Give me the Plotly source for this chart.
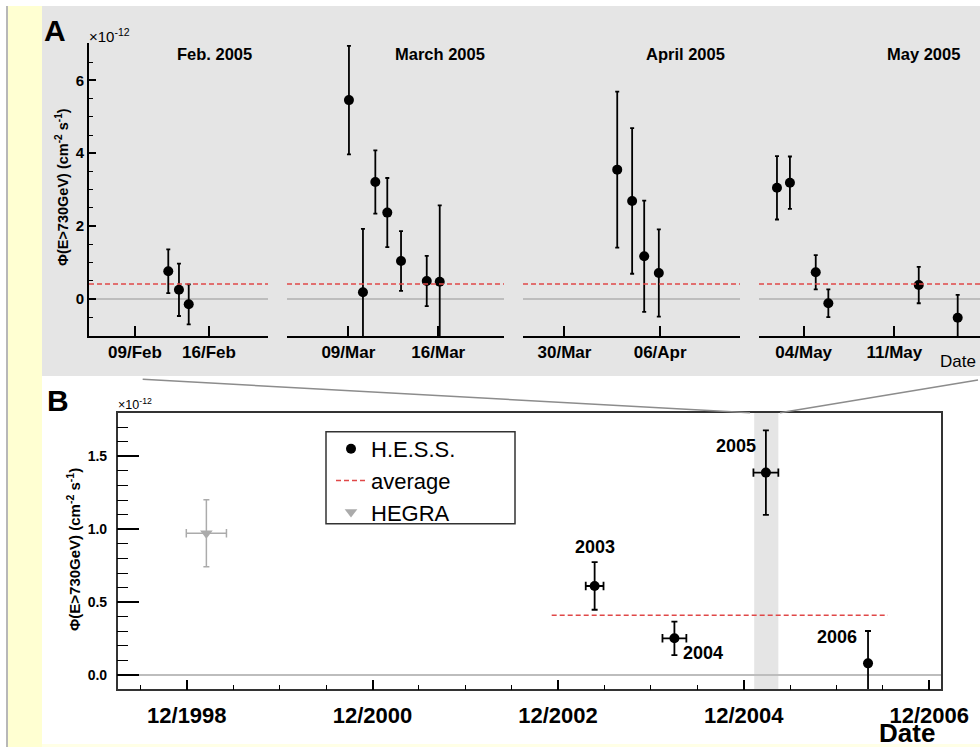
import plotly.graph_objects as go
import pandas as pd

W, H = 980, 747
def px(x): return x / W
def py(y): return 1 - y / H

FONT = "Liberation Sans, Arial, Helvetica, sans-serif"

# ---------------- Panel A data (flux in units of 1e-12 cm^-2 s^-1) ----------------
feb_dates = ["2005-02-12 03:36", "2005-02-13 03:50", "2005-02-14 02:00"]
feb_flux = [0.76, 0.25, -0.15]
feb_err = [0.60, 0.72, 0.55]

mar_dates = ["2005-03-09 01:10", "2005-03-10 03:20", "2005-03-11 02:25", "2005-03-12 00:45",
             "2005-03-13 02:25", "2005-03-15 02:25", "2005-03-16 02:40"]
mar_flux = [5.46, 0.18, 3.21, 2.37, 1.04, 0.49, 0.47]
mar_err = [1.49, 1.74, 0.87, 0.95, 0.82, 0.69, 2.10]

apr_dates = ["2005-04-02 20:40", "2005-04-03 22:50", "2005-04-04 20:00", "2005-04-05 21:40"]
apr_flux = [3.55, 2.69, 1.17, 0.71]
apr_err = [2.14, 2.00, 1.53, 1.20]

may_dates = ["2005-05-01 22:30", "2005-05-02 22:30", "2005-05-04 22:20", "2005-05-05 21:40",
             "2005-05-12 21:10", "2005-05-15 21:20"]
may_flux = [3.05, 3.19, 0.73, -0.12, 0.38, -0.52]
may_err = [0.87, 0.72, 0.47, 0.38, 0.50, 0.63]

month_titles = ["Feb. 2005", "March 2005", "April 2005", "May 2005"]
month_tickvals = [["2005-02-09", "2005-02-16"], ["2005-03-09", "2005-03-16"],
                  ["2005-03-30", "2005-04-06"], ["2005-05-04", "2005-05-11"]]
month_ticktext = [["09/Feb", "16/Feb"], ["09/Mar", "16/Mar"],
                  ["30/Mar", "06/Apr"], ["04/May", "11/May"]]

avg_flux = 0.41

# ---------------- Panel B data ----------------
hess_years = ["2003", "2004", "2005", "2006"]
hess_dates = ["2003-04-24", "2004-03-03", "2005-02-26", "2006-04-04"]
hess_flux = [0.611, 0.252, 1.389, 0.080]
hess_err = [0.163, 0.115, 0.290, 0.222]
hess_xerr_days = [35, 47, 49, 0]

hegra_dates = ["1999-02-16"]
hegra_flux = [0.973]
hegra_err = [0.23]
hegra_xerr_days = [79]

avg_dates = ["2002-11-06", "2006-06-21"]
zoom_band = ["2005-01-11", "2005-04-16"]

b_tickvals = ["1998-12-01", "2000-12-01", "2002-12-01", "2004-12-01", "2006-12-01"]
b_ticktext = ["12/1998", "12/2000", "12/2002", "12/2004", "12/2006"]


def xerr_segments(dates, flux, days):
    xs, ys = [], []
    for d, f, e in zip(dates, flux, days):
        if e > 0:
            t = pd.Timestamp(d)
            xs += [t - pd.Timedelta(days=e), t + pd.Timedelta(days=e), None]
            ys += [f, f, None]
    return xs, ys


fig = go.Figure()

# ---------------- Panel A traces ----------------
top_sets = [(feb_dates, feb_flux, feb_err), (mar_dates, mar_flux, mar_err),
            (apr_dates, apr_flux, apr_err), (may_dates, may_flux, may_err)]
for i, (d, f, e) in enumerate(top_sets):
    sfx = "" if i == 0 else str(i + 1)
    fig.add_trace(go.Scatter(
        x=d, y=f, mode="markers", xaxis="x" + sfx, yaxis="y" + sfx,
        marker=dict(symbol="circle", size=10, color="black"),
        error_y=dict(type="data", array=e, visible=True, color="black", thickness=1.8, width=2),
        showlegend=False, cliponaxis=True))

# ---------------- Panel B: horizontal error bars (date axis) ----------------
for dates, flux, days, col, lw in [(hess_dates, hess_flux, hess_xerr_days, "black", 1.8),
                                   (hegra_dates, hegra_flux, hegra_xerr_days, "#ABABAB", 1.5)]:
    xs, ys = xerr_segments(dates, flux, days)
    fig.add_trace(go.Scatter(
        x=xs, y=ys, mode="lines+markers", xaxis="x5", yaxis="y5", showlegend=False,
        hoverinfo="skip", line=dict(color=col, width=lw),
        marker=dict(symbol="line-ns", size=6, color=col, line=dict(width=lw, color=col))))

# ---------------- Panel B traces ----------------
fig.add_trace(go.Scatter(
    x=hess_dates, y=hess_flux, mode="markers", xaxis="x5", yaxis="y5", name="H.E.S.S.",
    marker=dict(symbol="circle", size=10, color="black"),
    error_y=dict(type="data", array=hess_err, visible=True, color="black", thickness=1.8, width=3),
    legendgroup="a"))
fig.add_trace(go.Scatter(
    x=avg_dates, y=[avg_flux, avg_flux], mode="lines", xaxis="x5", yaxis="y5", name="average",
    line=dict(color="#E04848", width=1.5, dash="5px,3px"), legendgroup="b"))
fig.add_trace(go.Scatter(
    x=hegra_dates, y=hegra_flux, mode="markers", xaxis="x5", yaxis="y5", name="HEGRA",
    marker=dict(symbol="triangle-down", size=11, color="#ABABAB"),
    error_y=dict(type="data", array=hegra_err, visible=True, color="#ABABAB", thickness=1.5, width=3),
    legendgroup="c"))

# ---------------- Layout: axes ----------------
top_dom_y = [py(336), py(43.3)]
top_dom_x = [[px(89), px(268)], [px(287), px(504)], [px(523), px(740)], [px(759), 1.0]]
top_ranges = [["2005-02-04 15:36", "2005-02-21 14:00"], ["2005-03-04 05:30", "2005-03-21 02:40"],
              ["2005-03-26 23:15", "2005-04-11 20:10"], ["2005-04-30 13:12", "2005-05-17 14:40"]]
yr_top = [-1.02, 7.02]

layout = dict(
    width=W, height=H, autosize=False,
    margin=dict(l=0, r=0, t=0, b=0, pad=0, autoexpand=False),
    paper_bgcolor="white", plot_bgcolor="rgba(0,0,0,0)",
    font=dict(family=FONT, color="black"),
    showlegend=True,
    legend=dict(x=px(331), y=py(428), xanchor="left", yanchor="top",
                bgcolor="rgba(0,0,0,0)", borderwidth=0,
                font=dict(family=FONT, size=22, color="black"),
                tracegroupgap=0, itemwidth=30),
)

for i in range(4):
    sfx = "" if i == 0 else str(i + 1)
    layout["xaxis" + sfx] = dict(
        domain=top_dom_x[i], anchor="y" + sfx, type="date", range=top_ranges[i],
        automargin=False,
        showline=True, linecolor="black", linewidth=2, showgrid=False, zeroline=False,
        ticks="inside", ticklen=10, tickwidth=1.5, tickcolor="black",
        tickmode="array", tickvals=month_tickvals[i], ticktext=month_ticktext[i],
        tickfont=dict(family=FONT, size=17, weight="bold", color="black"))
    ya = dict(domain=top_dom_y, anchor="x" + sfx, range=yr_top, showgrid=False, automargin=False,
              zeroline=True, zerolinecolor="#BDBDBD", zerolinewidth=1.5)
    if i == 0:
        ya.update(showline=True, linecolor="black", linewidth=2,
                  ticks="inside", ticklen=7, tickwidth=1.5, tickcolor="black",
                  tick0=0, dtick=2, ticklabelstandoff=0,
                  minor=dict(dtick=0.5, tick0=0, ticks="inside", ticklen=4,
                             tickwidth=1, tickcolor="black"),
                  tickfont=dict(family=FONT, size=15, weight="bold", color="black"))
    else:
        ya.update(showline=False, showticklabels=False, ticks="")
    layout["yaxis" + sfx] = ya

layout["xaxis5"] = dict(
    domain=[px(117.7), px(940.7)], anchor="y5", type="date",
    range=["1998-03-04", "2007-01-15"], automargin=False,
    showline=True, mirror=True, linecolor="#333333", linewidth=1.5,
    showgrid=False, zeroline=False,
    ticks="inside", ticklen=10, tickwidth=1.5, tickcolor="black",
    tickmode="array", tickvals=b_tickvals, ticktext=b_ticktext, ticklabelstandoff=6,
    minor=dict(dtick="M6", tick0="1998-06-01", ticks="inside", ticklen=5,
               tickwidth=1.2, tickcolor="black"),
    tickfont=dict(family=FONT, size=22, weight="bold", color="black"))
layout["yaxis5"] = dict(
    domain=[py(689.3), py(412.7)], anchor="x5", range=[-0.098, 1.80], automargin=False,
    showline=True, mirror=True, linecolor="#333333", linewidth=1.5,
    showgrid=False, zeroline=True, zerolinecolor="#BDBDBD", zerolinewidth=1.5,
    ticks="inside", ticklen=22, tickwidth=1.5, tickcolor="black",
    tick0=0, dtick=0.5, tickformat=".1f", ticklabelstandoff=6,
    minor=dict(dtick=0.1, tick0=0, ticks="inside", ticklen=11, tickwidth=1.2, tickcolor="black"),
    tickfont=dict(family=FONT, size=14, weight="bold", color="black"))

fig.update_layout(**layout)

# ---------------- Shapes ----------------
shapes = [
    dict(type="rect", xref="paper", yref="paper", x0=px(8), x1=px(42), y0=0, y1=py(6),
         fillcolor="#FFFFD2", line=dict(width=0), layer="below"),
    dict(type="rect", xref="paper", yref="paper", x0=px(42), x1=1, y0=0, y1=py(744),
         fillcolor="#FFFFE6", line=dict(width=0), layer="below"),
    dict(type="line", xref="paper", yref="paper", x0=px(7), x1=px(7), y0=0, y1=py(6),
         line=dict(color="#A0A0A0", width=1.5), layer="below"),
    dict(type="rect", xref="paper", yref="paper", x0=px(42), x1=1, y0=py(376), y1=py(6),
         fillcolor="#E5E5E5", line=dict(width=0), layer="below"),
    dict(type="rect", xref="x5", yref="y5 domain", x0=zoom_band[0], x1=zoom_band[1], y0=0, y1=1,
         fillcolor="#E5E5E5", line=dict(width=0), layer="below"),
    dict(type="line", xref="paper", yref="paper", x0=px(142.7), y0=py(379.3), x1=px(750), y1=py(412.7),
         line=dict(color="#8C8C8C", width=1.5)),
    dict(type="line", xref="paper", yref="paper", x0=px(780), y0=py(412.7), x1=px(978), y1=py(380),
         line=dict(color="#8C8C8C", width=1.5)),
    dict(type="rect", xref="paper", yref="paper", x0=px(326), x1=px(515), y0=py(523.7), y1=py(431.7),
         line=dict(color="#333333", width=1.5), fillcolor="rgba(0,0,0,0)"),
]
for i in range(4):
    sfx = "" if i == 0 else str(i + 1)
    shapes.append(dict(type="line", xref="x" + sfx + " domain", yref="y" + sfx,
                       x0=0, x1=1, y0=avg_flux, y1=avg_flux,
                       line=dict(color="#E04848", width=1.5, dash="5px,3px")))
fig.update_layout(shapes=shapes)

# ---------------- Annotations ----------------
ytitle = "Φ(E>730GeV) (cm<sup>-2</sup> s<sup>-1</sup>)"
ann = [
    dict(text="<b>A</b>", x=px(55), y=py(31), font=dict(size=30)),
    dict(text="<b>B</b>", x=px(58), y=py(400), font=dict(size=30)),
    dict(text="×10<sup>-12</sup>", x=px(87), y=py(35), xanchor="left", font=dict(size=15)),
    dict(text="×10<sup>-12</sup>", x=px(116), y=py(404), xanchor="left", font=dict(size=12.5)),
    dict(text="<b>" + ytitle + "</b>", x=px(62), y=py(187), textangle=-90, font=dict(size=14.5)),
    dict(text="<b>" + ytitle + "</b>", x=px(73), y=py(550), textangle=-90, font=dict(size=15)),
    dict(text="Date", x=px(958), y=py(361), font=dict(size=17)),
    dict(text="<b>Date</b>", x=px(907), y=py(733), font=dict(size=26)),
]
for t, cx in zip(month_titles, [214, 440, 685, 923]):
    ann.append(dict(text="<b>" + t + "</b>", x=px(cx), y=py(54), font=dict(size=16.5)))
for a in ann:
    a.update(xref="paper", yref="paper", showarrow=False)
    a.setdefault("xanchor", "center")
    a["yanchor"] = "middle"
    a["font"].update(family=FONT, color="black")

year_shift = [(0, 39), (29, -15), (-30, 27), (-31, 26)]
for yr, d, f, (dx, dy) in zip(hess_years, hess_dates, hess_flux, year_shift):
    ann.append(dict(text="<b>" + yr + "</b>", x=d, y=f, xref="x5", yref="y5", showarrow=False,
                    xshift=dx, yshift=dy, font=dict(family=FONT, size=18, color="black")))
fig.update_layout(annotations=ann)

fig.write_html("out.html",
               config={"responsive": False, "displayModeBar": False},
               post_script="document.body.style.margin='0';document.body.style.overflow='hidden';")
